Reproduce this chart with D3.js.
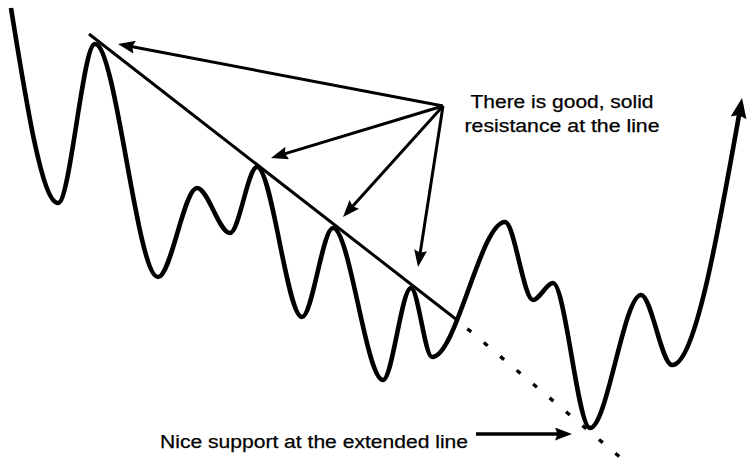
<!DOCTYPE html>
<html>
<head>
<meta charset="utf-8">
<script src="https://cdn.jsdelivr.net/npm/d3@7"></script>
<style>
  html, body { margin: 0; padding: 0; background: #fff; overflow: hidden; }
  text { font-family: "Liberation Sans", Arial, sans-serif; fill: #000; stroke: #000; stroke-width: 0.25px; }
</style>
</head>
<body>
<svg id="chart" width="747" height="462"></svg>
<script>
// Swing points of the price path: session number and price level
const sessions = [2.2, 11.6, 19, 31.6, 39.4, 46, 51.4, 60.4, 66.6, 76.6, 82.2, 86.4, 101, 106.6, 110.6, 118, 128.2, 134.4, 148.2];
const prices   = [90.8, 51.8, 83.6, 37, 54.8, 45.8, 59, 29, 46.8, 16.4, 34.8, 21, 48, 32.4, 35.8, 6.8, 33.4, 19.4, 71.6];

// Down-trend line across the lower highs, and its projection
const trendSessions = [17.8, 91.4];
const trendPrices   = [85.6, 28.4];
const extSessions   = [91.4, 124.2];
const extPrices     = [28.4, 0.8];

// Callouts: one origin fanning out to the touches of the line
const resistanceFrom = [88.6, 71.2];
const resistanceTo   = [[23.6, 83.6], [54.2, 60.8], [68.6, 49], [83.6, 39]];
const supportFrom    = [95.2, 5.6];
const supportTo      = [114.4, 5.6];

const resistanceLabel = ["There is good, solid", "resistance at the line"];
const supportLabel    = "Nice support at the extended line";

const W = 747, H = 462;
const svg = d3.select("#chart");
svg.append("rect").attr("width", W).attr("height", H).attr("fill", "#fff");

const x = d3.scaleLinear().domain([0, 149.4]).range([0, W]);
const y = d3.scaleLinear().domain([0, 92.4]).range([H, 0]);

const defs = svg.append("defs");
function arrowMarker(id, len, wid, back) {
  defs.append("marker")
    .attr("id", id)
    .attr("markerUnits", "userSpaceOnUse")
    .attr("viewBox", `0 0 ${len} ${wid}`)
    .attr("markerWidth", len).attr("markerHeight", wid)
    .attr("refX", len - back).attr("refY", wid / 2)
    .attr("orient", "auto")
    .append("path")
    .attr("d", `M0,0 L${len},${wid / 2} L0,${wid} L2.5,${wid / 2} Z`)
    .attr("fill", "#000");
}
arrowMarker("head", 17, 13, 0);
arrowMarker("headBig", 20, 16, 6);

// Price path
const pricePts = sessions.map((s, i) => [x(s), y(prices[i])]);
svg.append("path")
  .attr("d", d3.line().curve(d3.curveMonotoneX)(pricePts))
  .attr("fill", "none")
  .attr("stroke", "#000")
  .attr("stroke-width", 4.6)
  .attr("stroke-linejoin", "round")
  .attr("marker-end", "url(#headBig)");

// Trend line
svg.append("line")
  .attr("x1", x(trendSessions[0])).attr("y1", y(trendPrices[0]))
  .attr("x2", x(trendSessions[1])).attr("y2", y(trendPrices[1]))
  .attr("stroke", "#000").attr("stroke-width", 3);

// Extended trend line
svg.append("line")
  .attr("x1", x(extSessions[0])).attr("y1", y(extPrices[0]))
  .attr("x2", x(extSessions[1])).attr("y2", y(extPrices[1]))
  .attr("stroke", "#000").attr("stroke-width", 3.4)
  .attr("stroke-dasharray", "5 16.5")
  .attr("stroke-dashoffset", 8);

// Arrow with the shaft stopping short of the tip so the head stays sharp
function arrow(from, to, width) {
  const x1 = x(from[0]), y1 = y(from[1]);
  const x2 = x(to[0]), y2 = y(to[1]);
  const d = Math.hypot(x2 - x1, y2 - y1);
  const ux = (x2 - x1) / d, uy = (y2 - y1) / d;
  svg.append("line")
    .attr("x1", x1).attr("y1", y1)
    .attr("x2", x2 - ux * 8).attr("y2", y2 - uy * 8)
    .attr("stroke", "#000").attr("stroke-width", width);
  svg.append("line")
    .attr("x1", x2 - ux * 9).attr("y1", y2 - uy * 9)
    .attr("x2", x2).attr("y2", y2)
    .attr("stroke", "none")
    .attr("marker-end", "url(#head)");
}
resistanceTo.forEach(t => arrow(resistanceFrom, t, 3));
arrow(supportFrom, supportTo, 3.4);

// Labels
const labelWidths = [183, 195];
resistanceLabel.forEach((t, i) => {
  svg.append("text")
    .attr("x", x(112.4)).attr("y", y(70.8) + i * 24)
    .attr("text-anchor", "middle")
    .attr("font-size", 18)
    .attr("textLength", labelWidths[i])
    .attr("lengthAdjust", "spacingAndGlyphs")
    .text(t);
});
svg.append("text")
  .attr("x", x(32)).attr("y", y(2.8))
  .attr("font-size", 18)
  .attr("textLength", 308)
  .attr("lengthAdjust", "spacingAndGlyphs")
  .text(supportLabel);
</script>
</body>
</html>
